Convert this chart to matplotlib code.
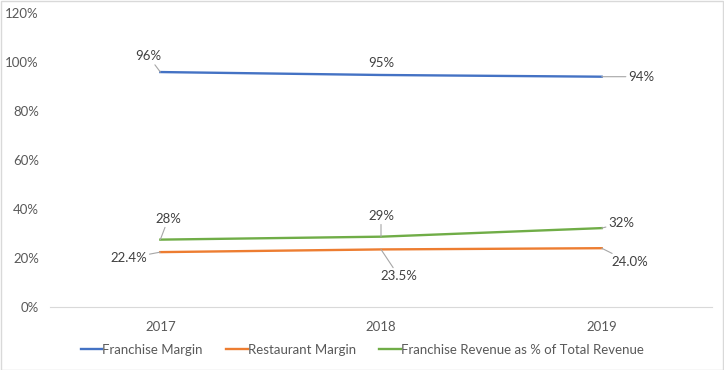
import matplotlib.pyplot as plt
from matplotlib.patches import Rectangle

years = ["2017", "2018", "2019"]
franchise_margin = [0.959, 0.947, 0.940]
restaurant_margin = [0.224, 0.235, 0.240]
franchise_rev_share = [0.275, 0.287, 0.322]

franchise_labels = ["96%", "95%", "94%"]
restaurant_labels = ["22.4%", "23.5%", "24.0%"]
share_labels = ["28%", "29%", "32%"]

plt.rcParams["font.family"] = ["Lato", "DejaVu Sans"]

fig = plt.figure(figsize=(7.24, 3.70), dpi=100)
ax = fig.add_axes([50 / 724, 1 - 307 / 370, 662 / 724, 294 / 370])

x = range(len(years))
l1, = ax.plot(x, franchise_margin, color="#4472C4", lw=1.7, label="Franchise Margin")
l2, = ax.plot(x, restaurant_margin, color="#ED7D31", lw=1.7, label="Restaurant Margin")
l3, = ax.plot(x, franchise_rev_share, color="#70AD47", lw=1.7,
              label="Franchise Revenue as % of Total Revenue")

ax.set_xlim(-0.5, 2.5)
ax.set_ylim(0, 1.2)
ax.set_yticks([0, 0.2, 0.4, 0.6, 0.8, 1.0, 1.2])
ax.set_yticklabels(["0%", "20%", "40%", "60%", "80%", "100%", "120%"])
ax.set_xticks(list(x))
ax.set_xticklabels(years)
ax.tick_params(axis="both", length=0, labelsize=9.5, colors="#595959")
ax.tick_params(axis="x", pad=10)
ax.tick_params(axis="y", pad=8)
for s in ["top", "right", "left"]:
    ax.spines[s].set_visible(False)
ax.spines["bottom"].set_color("#D9D9D9")

lead = dict(arrowstyle="-", color="#A6A6A6", lw=0.8, shrinkA=0, shrinkB=0)

def label(i, y, txt, dx, dy, line=True):
    ax.annotate(txt, (i, y), xytext=(dx, dy), textcoords="offset pixels",
                ha="center", va="center", fontsize=9.5, color="#404040",
                arrowprops=lead if line else None)

# franchise margin
label(0, franchise_margin[0], franchise_labels[0], -12, 16)
label(1, franchise_margin[1], franchise_labels[1], 0, 12, line=False)
label(2, franchise_margin[2], franchise_labels[2], 40, 0)
# franchise revenue share
label(0, franchise_rev_share[0], share_labels[0], 8, 21)
label(1, franchise_rev_share[1], share_labels[1], 0, 21)
label(2, franchise_rev_share[2], share_labels[2], 20, 5)
# restaurant margin
label(0, restaurant_margin[0], restaurant_labels[0], -32, -6)
label(1, restaurant_margin[1], restaurant_labels[1], 18, -27)
label(2, restaurant_margin[2], restaurant_labels[2], 28, -14)

fig.legend(handles=[l1, l2, l3], loc="center", bbox_to_anchor=(0.5, 1 - 350 / 370),
           ncol=3, frameon=False, fontsize=9.5, handlelength=1.65, handletextpad=0.0,
           columnspacing=1.75, labelcolor="#595959")

fig.patches.append(Rectangle((0.5 / 724, 0.5 / 370), 1 - 1.5 / 724, 1 - 1.5 / 370,
                             transform=fig.transFigure, fill=False,
                             edgecolor="#D9D9D9", lw=1))

fig.savefig("out.png", dpi=100)
